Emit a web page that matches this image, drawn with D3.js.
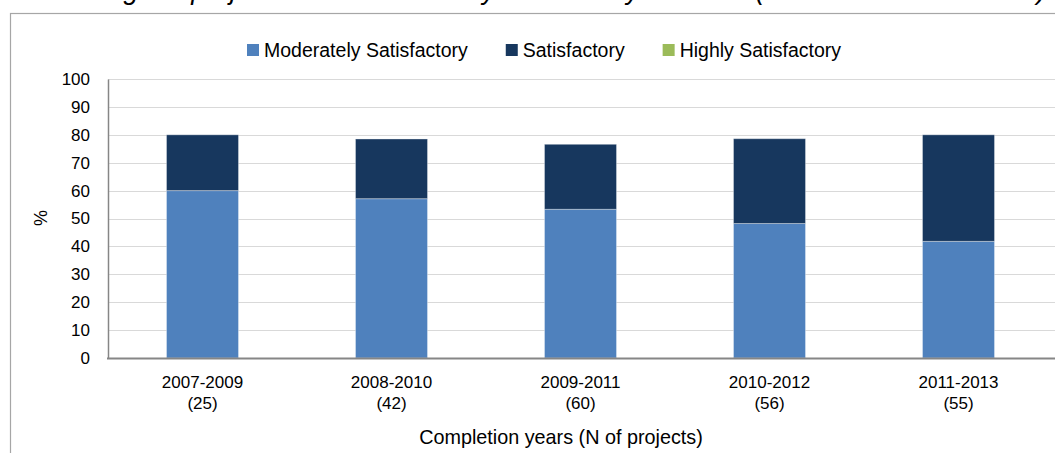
<html lang="en">
<head>
    <meta charset="utf-8" />
    <title>Projects rated moderately satisfactory or better</title>
    <style>
        body, html {
            margin: 0;
            padding: 0;
            background: #fff;
            overflow: hidden;
            font-family: "Liberation Sans", Arial, sans-serif;
        }
        .grid line { stroke: #d9d9d9; stroke-width: 1.5px; shape-rendering: crispEdges; }
        .axis text { font-size: 17px; fill: #000; }
        .legend text { font-size: 19.5px; fill: #000; }
    </style>
    <script src="https://d3js.org/d3.v7.min.js"></script>
</head>
<body>
    <div id="chart"></div>
    <script>
        // completion periods and number of projects
        const periods = ["2007-2009", "2008-2010", "2009-2011", "2010-2012", "2011-2013"];
        const projectCounts = [25, 42, 60, 56, 55];
        // % of projects per rating
        const moderatelySatisfactory = [60, 57.1, 53.3, 48.2, 41.8];
        const satisfactory = [20, 21.4, 23.3, 30.4, 38.2];
        const highlySatisfactory = [0, 0, 0, 0, 0];
        const seriesNames = ["Moderately Satisfactory", "Satisfactory", "Highly Satisfactory"];
        const seriesColors = ["#4f81bd", "#17375e", "#9bbb59"];
        const yTicks = [0, 10, 20, 30, 40, 50, 60, 70, 80, 90, 100];

        const width = 1055, height = 453;
        const svg = d3.select("#chart").append("svg")
            .attr("width", width)
            .attr("height", height);

        // caption, cut off at the top edge like in the original page
        svg.append("text")
            .attr("x", 1046)
            .attr("y", -1)
            .attr("text-anchor", "end")
            .style("font-size", "27px")
            .style("font-style", "italic")
            .text("Percentage of projects rated moderately satisfactory or better (PCRV/PPA data series)");

        // chart frame
        svg.append("rect")
            .attr("x", 10.5).attr("y", 13.5)
            .attr("width", 1100).attr("height", 500)
            .attr("fill", "none")
            .attr("stroke", "#a6a6a6")
            .attr("stroke-width", 1.2);

        const plot = { left: 108, right: 1053, top: 79, bottom: 358 };

        const x = d3.scaleBand()
            .domain(periods)
            .range([plot.left, plot.right])
            .paddingInner(0.619)
            .paddingOuter(0.3095);

        const y = d3.scaleLinear()
            .domain([0, 100])
            .range([plot.bottom, plot.top]);

        // gridlines
        svg.append("g")
            .attr("class", "grid")
            .selectAll("line")
            .data(yTicks.filter(d => d > 0))
            .join("line")
            .attr("x1", plot.left)
            .attr("x2", width)
            .attr("y1", d => Math.round(y(d)) + 0.5)
            .attr("y2", d => Math.round(y(d)) + 0.5);

        // stacked bars
        const rows = periods.map((p, i) => ({
            period: p,
            ms: moderatelySatisfactory[i],
            s: satisfactory[i],
            hs: highlySatisfactory[i]
        }));
        const stack = d3.stack().keys(["ms", "s", "hs"]);
        const layers = stack(rows);

        svg.append("g")
            .selectAll("g")
            .data(layers)
            .join("g")
            .attr("fill", (d, i) => seriesColors[i])
            .selectAll("rect")
            .data(d => d.filter(v => v[1] - v[0] > 0))
            .join("rect")
            .attr("x", d => x(d.data.period))
            .attr("width", x.bandwidth())
            .attr("y", d => y(d[1]))
            .attr("height", d => y(d[0]) - y(d[1]))
            .attr("stroke", "rgba(255,255,255,0.35)")
            .attr("stroke-width", 1);

        // y axis
        const yAxis = svg.append("g")
            .attr("class", "axis")
            .attr("transform", "translate(" + plot.left + ",0)")
            .call(d3.axisLeft(y).tickValues(yTicks).tickSize(0).tickPadding(18));
        yAxis.select(".domain").attr("stroke", "#868686").attr("stroke-width", 1.5);
        yAxis.selectAll(".tick text").style("font-family", "inherit").style("font-size", "17px");

        // x axis line
        svg.append("line")
            .attr("x1", plot.left - 1)
            .attr("x2", width)
            .attr("y1", plot.bottom + 0.5)
            .attr("y2", plot.bottom + 0.5)
            .attr("stroke", "#868686")
            .attr("stroke-width", 2);

        // x labels, two lines each
        const xLabels = svg.append("g").attr("class", "axis")
            .selectAll("text")
            .data(periods)
            .join("text")
            .attr("text-anchor", "middle")
            .attr("x", d => x(d) + x.bandwidth() / 2)
            .attr("y", 388);
        xLabels.append("tspan").text(d => d);
        xLabels.append("tspan")
            .attr("x", d => x(d) + x.bandwidth() / 2)
            .attr("dy", 21)
            .text((d, i) => "(" + projectCounts[i] + ")");

        // axis titles
        svg.append("text")
            .attr("x", 561)
            .attr("y", 444)
            .attr("text-anchor", "middle")
            .style("font-size", "19.8px")
            .text("Completion years (N of projects)");

        svg.append("text")
            .attr("transform", "translate(47,218) rotate(-90)")
            .attr("text-anchor", "middle")
            .style("font-size", "18px")
            .text("%");

        // legend
        const legend = svg.append("g").attr("class", "legend");
        let lx = 247;
        seriesNames.forEach((name, i) => {
            legend.append("rect")
                .attr("x", lx).attr("y", 44)
                .attr("width", 12).attr("height", 12)
                .attr("fill", seriesColors[i]);
            const t = legend.append("text")
                .attr("x", lx + 17)
                .attr("y", 57)
                .text(name);
            lx += 17 + t.node().getComputedTextLength() + 38;
        });
    </script>
</body>
</html>
